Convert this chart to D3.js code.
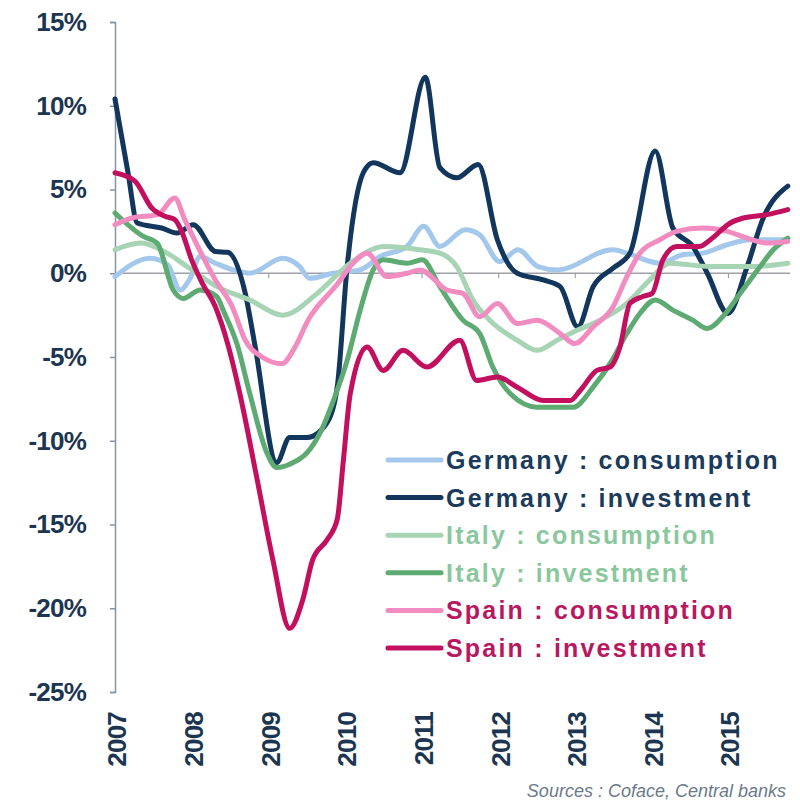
<!DOCTYPE html>
<html>
<head>
<meta charset="utf-8">
<script src="https://cdn.jsdelivr.net/npm/d3@7/dist/d3.min.js"></script>
<style>
body { margin:0; background:#fff; }
#graph { width:800px; height:803px; }
text { font-family: Arial, "Liberation Sans", sans-serif; }
</style>
</head>
<body>
<div id="graph"></div>
<script>
var years = [2007, 2008, 2009, 2010, 2011, 2012, 2013, 2014, 2015]
var yTicks = [-25, -20, -15, -10, -5, 0, 5, 10, 15]

// [decimal year, % change]
var germanyConsumption = [[2007.00,-0.2],[2007.46,0.9],[2007.69,0.5],[2007.85,-1.0],[2007.98,-0.3],[2008.11,1.0],[2008.31,0.6],[2008.54,0.2],[2008.76,0.0],[2009.19,0.9],[2009.41,0.4],[2009.54,-0.3],[2009.85,0.0],[2010.20,0.2],[2010.46,1.0],[2010.81,1.6],[2011.03,2.8],[2011.24,1.6],[2011.57,2.6],[2011.76,2.3],[2012.02,0.7],[2012.26,1.4],[2012.52,0.4],[2012.77,0.2],[2013.50,1.4],[2013.68,1.2],[2014.11,0.6],[2014.41,1.1],[2014.67,1.2],[2014.99,1.7],[2015.29,2.0],[2015.78,2.0]]
var germanyInvestment = [[2007.00,10.4],[2007.17,6.0],[2007.29,3.0],[2007.61,2.7],[2007.81,2.4],[2008.02,2.9],[2008.31,1.3],[2008.47,1.25],[2008.70,-1.2],[2008.83,-4.4],[2009.11,-11.3],[2009.28,-9.8],[2009.51,-9.8],[2009.77,-8.9],[2009.90,-6.8],[2010.03,0.4],[2010.24,6.0],[2010.37,6.6],[2010.72,6.0],[2011.05,11.7],[2011.24,6.3],[2011.46,5.7],[2011.74,6.5],[2011.99,2.0],[2012.25,0.0],[2012.59,-0.4],[2012.81,-0.8],[2013.04,-3.2],[2013.24,-0.8],[2013.50,0.3],[2013.72,1.2],[2014.05,7.3],[2014.28,2.7],[2014.54,1.6],[2014.73,0.0],[2015.00,-2.4],[2015.25,0.4],[2015.46,3.3],[2015.78,5.2]]
var italyConsumption = [[2007.00,1.4],[2007.33,1.8],[2007.68,1.2],[2007.94,0.4],[2008.33,-0.8],[2008.76,-1.6],[2009.19,-2.5],[2009.64,-1.2],[2010.07,0.6],[2010.52,1.6],[2010.98,1.4],[2011.24,1.2],[2011.46,0.4],[2011.67,-1.6],[2011.89,-2.8],[2012.25,-4.0],[2012.51,-4.6],[2012.77,-4.0],[2013.03,-3.4],[2013.24,-3.0],[2013.68,-1.8],[2013.98,-0.4],[2014.24,0.6],[2014.77,0.4],[2015.33,0.4],[2015.78,0.6]]
var italyInvestment = [[2007.00,3.6],[2007.37,2.2],[2007.55,1.8],[2007.76,-1.0],[2007.89,-1.5],[2008.11,-1.0],[2008.33,-1.4],[2008.41,-2.2],[2008.59,-4.2],[2008.76,-7.2],[2008.98,-10.7],[2009.11,-11.6],[2009.28,-11.4],[2009.51,-10.7],[2009.68,-9.5],[2009.85,-7.6],[2010.03,-5.2],[2010.20,-2.2],[2010.37,0.2],[2010.50,0.8],[2010.81,0.6],[2011.01,0.8],[2011.24,-0.8],[2011.54,-2.8],[2011.76,-3.6],[2011.93,-5.6],[2012.16,-7.2],[2012.51,-8.0],[2012.85,-8.0],[2012.98,-8.0],[2013.24,-6.8],[2013.46,-5.4],[2013.68,-3.6],[2013.85,-2.4],[2014.05,-1.6],[2014.28,-2.2],[2014.54,-2.8],[2014.73,-3.3],[2014.93,-2.6],[2015.16,-1.2],[2015.42,0.4],[2015.59,1.4],[2015.78,2.1]]
var spainConsumption = [[2007.00,2.9],[2007.22,3.3],[2007.56,3.5],[2007.78,4.5],[2007.91,3.2],[2008.08,1.6],[2008.31,-0.4],[2008.53,-2.0],[2008.70,-4.0],[2008.92,-5.0],[2009.18,-5.4],[2009.35,-4.4],[2009.52,-2.8],[2009.91,-0.6],[2010.07,0.4],[2010.29,1.2],[2010.55,-0.2],[2010.81,0.0],[2010.98,0.2],[2011.33,-1.0],[2011.54,-1.2],[2011.76,-2.6],[2011.99,-1.8],[2012.25,-3.0],[2012.51,-2.8],[2012.81,-3.6],[2013.00,-4.2],[2013.24,-3.2],[2013.50,-2.0],[2013.68,-0.2],[2013.85,1.2],[2014.11,2.0],[2014.33,2.5],[2014.67,2.7],[2014.99,2.5],[2015.25,2.1],[2015.51,1.8],[2015.78,1.9]]
var spainInvestment = [[2007.00,6.0],[2007.26,5.5],[2007.48,3.9],[2007.65,3.4],[2007.78,3.2],[2007.87,2.5],[2008.00,0.8],[2008.14,-0.6],[2008.31,-2.0],[2008.47,-4.2],[2008.63,-7.2],[2008.85,-12.2],[2009.06,-17.1],[2009.28,-21.2],[2009.45,-19.5],[2009.58,-17.1],[2009.77,-15.9],[2009.90,-14.7],[2009.98,-11.2],[2010.07,-7.2],[2010.29,-4.4],[2010.50,-5.8],[2010.76,-4.6],[2011.07,-5.6],[2011.50,-4.0],[2011.72,-6.4],[2011.99,-6.2],[2012.25,-6.8],[2012.59,-7.6],[2012.94,-7.6],[2013.07,-7.0],[2013.29,-5.8],[2013.46,-5.6],[2013.59,-4.4],[2013.72,-1.8],[2013.88,-1.4],[2014.01,-1.2],[2014.15,0.8],[2014.33,1.6],[2014.63,1.6],[2014.77,2.0],[2015.03,3.0],[2015.20,3.3],[2015.51,3.5],[2015.78,3.8]]

var seriesNames = ["Germany : consumption", "Germany : investment", "Italy : consumption", "Italy : investment", "Spain : consumption", "Spain : investment"]
var seriesValues = [germanyConsumption, germanyInvestment, italyConsumption, italyInvestment, spainConsumption, spainInvestment]
var lineColors = ["#a4c8ec", "#13365c", "#a6d4b4", "#5daa72", "#f28cc0", "#c2105e"]
var textColors = ["#1b3a5c", "#1b3a5c", "#8ac79c", "#8ac79c", "#b8185f", "#b8185f"]

var width = 800, height = 803
var svg = d3.select("#graph").append("svg").attr("width", width).attr("height", height)

var x = d3.scaleLinear().domain([2007, 2015]).range([115, 728])
var y = d3.scaleLinear().domain([-25, 15]).range([692, 22])

// y axis
var yAxis = svg.append("g")
	.attr("transform", "translate(115,0)")
	.call(d3.axisLeft(y).tickValues(yTicks).tickSize(5).tickPadding(24).tickFormat(function(d){ return d + "%" }))
yAxis.select(".domain").attr("stroke", "#8394a8").attr("stroke-width", 1.5)
yAxis.selectAll(".tick line").attr("stroke", "#8394a8").attr("stroke-width", 1.5)
yAxis.selectAll(".tick text")
	.attr("fill", "#1c3551")
	.attr("font-size", 26)
	.attr("font-weight", "bold")
	.attr("letter-spacing", -0.8)

// zero line with year ticks
var zeroAxis = svg.append("g")
	.attr("transform", "translate(0," + y(0) + ")")
	.call(d3.axisBottom(x).tickValues(years).tickSize(5).tickFormat(""))
zeroAxis.select(".domain").attr("stroke", "#a0a0a8").attr("stroke-width", 1.5).attr("d", "M115,0H790")
zeroAxis.selectAll(".tick line").attr("stroke", "#a0a0a8").attr("stroke-width", 1.2)

// year labels
svg.append("g").selectAll("text")
	.data(years)
	.enter().append("text")
	.attr("transform", function(d){ return "translate(" + (x(d) + 2) + ",712) rotate(-90)" })
	.attr("dy", "0.36em")
	.attr("text-anchor", "end")
	.attr("fill", "#1c3551")
	.attr("font-size", 26)
	.attr("font-weight", "bold")
	.attr("letter-spacing", -0.8)
	.text(function(d){ return d })

// lines
var line = d3.line()
	.x(function(d){ return x(d[0]) })
	.y(function(d){ return y(d[1]) })
	.curve(d3.curveMonotoneX)

svg.append("g").selectAll("path")
	.data(seriesValues)
	.enter().append("path")
	.attr("d", line)
	.attr("fill", "none")
	.attr("stroke", function(d, i){ return lineColors[i] })
	.attr("stroke-width", 5)
	.attr("stroke-linejoin", "round")
	.attr("stroke-linecap", "round")

// legend
var legend = svg.append("g").selectAll("g")
	.data(seriesNames)
	.enter().append("g")
	.attr("transform", function(d, i){ return "translate(0," + (460 + i * 37.6) + ")" })
legend.append("line")
	.attr("x1", 388).attr("x2", 441)
	.attr("stroke", function(d, i){ return lineColors[i] })
	.attr("stroke-width", 5)
	.attr("stroke-linecap", "round")
legend.append("text")
	.attr("x", 446)
	.attr("dy", "0.36em")
	.attr("fill", function(d, i){ return textColors[i] })
	.attr("font-size", 25)
	.attr("font-weight", "bold")
	.attr("letter-spacing", 2.2)
	.text(function(d){ return d })

// source
svg.append("text")
	.attr("x", 786).attr("y", 797)
	.attr("text-anchor", "end")
	.attr("fill", "#6a7a8a")
	.attr("font-size", 18)
	.attr("font-style", "italic")
	.text("Sources : Coface, Central banks")
</script>
</body>
</html>
